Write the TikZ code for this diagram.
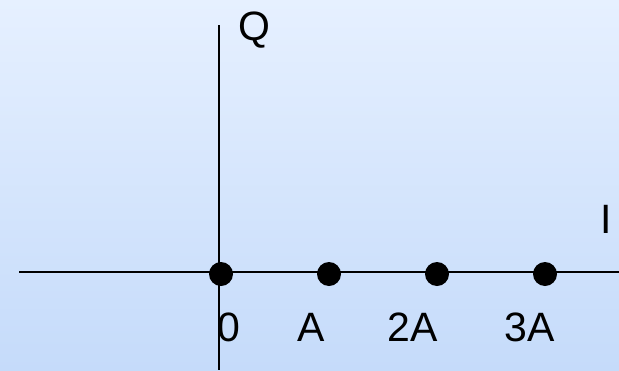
\documentclass[tikz,border=0pt]{standalone}
\usepackage{fontspec}
\setmainfont{Liberation Sans}
\begin{document}
\begin{tikzpicture}[x=1pt,y=-1pt,
  axis/.style={line width=2.6pt,black},
  dot/.style={circle,fill=black,inner sep=0pt,minimum size=24pt},
  lbl/.style={anchor=base,inner sep=0pt,font=\fontsize{41}{48}\selectfont}]
\useasboundingbox (0,0) rectangle (619,370);
\shade[top color={rgb,255:red,230;green,240;blue,255},bottom color={rgb,255:red,197;green,219;blue,250}] (0,0) rectangle (619,370);
\coordinate (vtop) at (219,25);
\coordinate (vbot) at (219,370);
\coordinate (hl) at (19,272);
\coordinate (hr) at (619,272);
\draw[axis] (vtop) -- (vbot);
\draw[axis] (hl) -- (hr);
\node[dot] (d0) at (221,274) {};
\node[dot] (d1) at (329,274) {};
\node[dot] (d2) at (437,274) {};
\node[dot] (d3) at (545,274) {};
\node[lbl] (q) at (254,40) {Q};
\node[lbl] (i) at (606,233) {I};
\node[lbl] (l0) at (229,341) {0};
\node[lbl] (l1) at (311,341) {A};
\node[lbl] (l2) at (413,341) {2A};
\node[lbl] (l3) at (530,341) {3A};
\end{tikzpicture}
\end{document}
